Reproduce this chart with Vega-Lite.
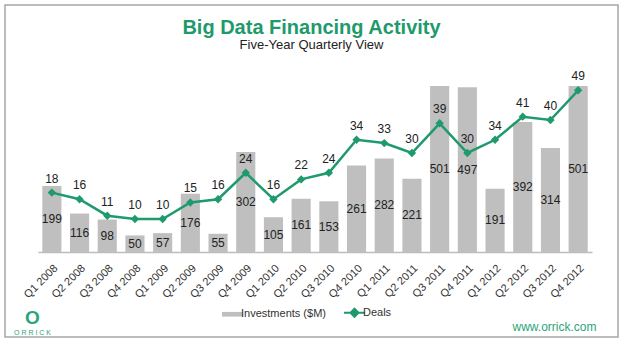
{
  "$schema": "https://vega.github.io/schema/vega-lite/v6.json",
  "width": 613,
  "height": 332,
  "autosize": "none",
  "padding": {"left": 5, "top": 5, "right": 7, "bottom": 5},
  "background": "white",
  "title": {
    "text": "Big Data Financing Activity",
    "subtitle": "Five-Year Quarterly View",
    "anchor": "middle",
    "frame": "group",
    "offset": -46.5,
    "font": "Liberation Sans",
    "fontSize": 20,
    "fontWeight": "bold",
    "color": "#1e9a6c",
    "subtitleFont": "Liberation Sans",
    "subtitleFontSize": 13,
    "subtitleColor": "#222222",
    "subtitlePadding": 1
  },
  "config": {
    "view": {"stroke": "#a6a6a6", "strokeWidth": 1.5},
    "font": "Liberation Sans"
  },
  "data": {
    "values": [
      {"q": "Q1 2008", "inv": 199, "deals": 18},
      {"q": "Q2 2008", "inv": 116, "deals": 16},
      {"q": "Q3 2008", "inv": 98, "deals": 11},
      {"q": "Q4 2008", "inv": 50, "deals": 10},
      {"q": "Q1 2009", "inv": 57, "deals": 10},
      {"q": "Q2 2009", "inv": 176, "deals": 15},
      {"q": "Q3 2009", "inv": 55, "deals": 16},
      {"q": "Q4 2009", "inv": 302, "deals": 24},
      {"q": "Q1 2010", "inv": 105, "deals": 16},
      {"q": "Q2 2010", "inv": 161, "deals": 22},
      {"q": "Q3 2010", "inv": 153, "deals": 24},
      {"q": "Q4 2010", "inv": 261, "deals": 34},
      {"q": "Q1 2011", "inv": 282, "deals": 33},
      {"q": "Q2 2011", "inv": 221, "deals": 30},
      {"q": "Q3 2011", "inv": 501, "deals": 39},
      {"q": "Q4 2011", "inv": 497, "deals": 30},
      {"q": "Q1 2012", "inv": 191, "deals": 34},
      {"q": "Q2 2012", "inv": 392, "deals": 41},
      {"q": "Q3 2012", "inv": 314, "deals": 40},
      {"q": "Q4 2012", "inv": 501, "deals": 49}
    ]
  },
  "encoding": {
    "x": {
      "field": "q",
      "type": "nominal",
      "sort": null,
      "scale": {"range": [33, 587], "paddingInner": 0.31, "paddingOuter": 0.155},
      "axis": {
        "title": "www.orrick.com",
        "titleX": 507,
        "titleY": 78,
        "titleAlign": "left",
        "titleBaseline": "alphabetic",
        "titleFont": "Liberation Sans",
        "titleFontSize": 12,
        "titleFontWeight": "normal",
        "titleColor": "#2aa57a",
        "offset": -85,
        "labelAngle": -45,
        "labelFontSize": 11,
        "labelFont": "Liberation Sans",
        "labelColor": "#333333",
        "labelOverlap": false,
        "labelPadding": 10,
        "ticks": false,
        "grid": false,
        "domainColor": "#bdbdbd",
        "domainWidth": 1.5
      }
    }
  },
  "layer": [
    {
      "mark": {"type": "bar"},
      "encoding": {
        "y": {
          "field": "inv",
          "type": "quantitative",
          "scale": {"domain": [0, 501], "range": [247, 81], "nice": false},
          "axis": {
            "orient": "left",
            "title": "O",
            "titleX": 27,
            "titleY": 312,
            "titleAngle": 0,
            "titleAlign": "center",
            "titleBaseline": "middle",
            "titleFont": "Liberation Sans",
            "titleFontSize": 19,
            "titleFontWeight": "bold",
            "titleColor": "#2aa57a",
            "labels": false,
            "ticks": false,
            "domain": false,
            "grid": false
          }
        },
        "color": {
          "datum": "Investments ($M)",
          "type": "nominal",
          "scale": {"domain": ["Investments ($M)", "Deals"], "range": ["#bfbfbf", "#1e9a6c"]},
          "legend": {
            "orient": "none",
            "legendX": 222,
            "legendY": 302,
            "direction": "horizontal",
            "title": null,
            "padding": 0,
            "symbolSize": 441,
            "labelFont": "Liberation Sans",
            "labelFontSize": 11,
            "labelColor": "#333333",
            "labelOffset": 3,
            "columnPadding": 14,
            "encode": {
              "symbols": {
                "update": {
                  "shape": {"signal": "datum.value === 'Deals' ? 'M-1,0H1M0,-0.38L0.38,0L0,0.38L-0.38,0Z' : 'M-1,-0.22H1V0.22H-1Z'"},
                  "fill": {"signal": "datum.value === 'Deals' ? '#1e9a6c' : '#bfbfbf'"},
                  "stroke": {"signal": "datum.value === 'Deals' ? '#1e9a6c' : '#bfbfbf'"},
                  "strokeWidth": {"signal": "datum.value === 'Deals' ? 2 : 0"},
                  "opacity": {"value": 1}
                }
              }
            }
          }
        }
      }
    },
    {
      "mark": {"type": "text", "baseline": "middle", "fontSize": 12, "color": "#222222", "font": "Liberation Sans"},
      "encoding": {
        "y": {
          "field": "inv",
          "type": "quantitative",
          "scale": {"domain": [0, 1002], "range": [247, 81], "nice": false},
          "axis": {
            "orient": "right",
            "title": "O R R I C K",
            "titleX": -586,
            "titleY": 329,
            "titleAngle": 0,
            "titleAlign": "center",
            "titleBaseline": "alphabetic",
            "titleFont": "Liberation Sans",
            "titleFontSize": 7,
            "titleFontWeight": "normal",
            "titleColor": "#2aa57a",
            "labels": false,
            "ticks": false,
            "domain": false,
            "grid": false
          }
        },
        "text": {"field": "inv", "type": "quantitative"}
      }
    },
    {
      "layer": [
        {
          "mark": {"type": "line", "strokeWidth": 2.5},
          "encoding": {
            "y": {"field": "deals", "type": "quantitative", "scale": {"domain": [0, 50.3], "range": [247, 81], "nice": false}, "axis": null},
            "color": {"datum": "Deals", "type": "nominal"}
          }
        },
        {
          "mark": {"type": "point", "shape": "diamond", "filled": true, "size": 70, "opacity": 1},
          "encoding": {
            "y": {"field": "deals", "type": "quantitative", "scale": {"domain": [0, 50.3], "range": [247, 81], "nice": false}, "axis": null},
            "color": {"datum": "Deals", "type": "nominal"}
          }
        },
        {
          "mark": {"type": "text", "dy": -14, "baseline": "middle", "fontSize": 12, "color": "#222222", "font": "Liberation Sans"},
          "encoding": {
            "y": {"field": "deals", "type": "quantitative", "scale": {"domain": [0, 50.3], "range": [247, 81], "nice": false}, "axis": null},
            "text": {"field": "deals", "type": "quantitative"}
          }
        }
      ]
    }
  ],
  "resolve": {"scale": {"y": "independent"}, "axis": {"y": "independent"}}
}
